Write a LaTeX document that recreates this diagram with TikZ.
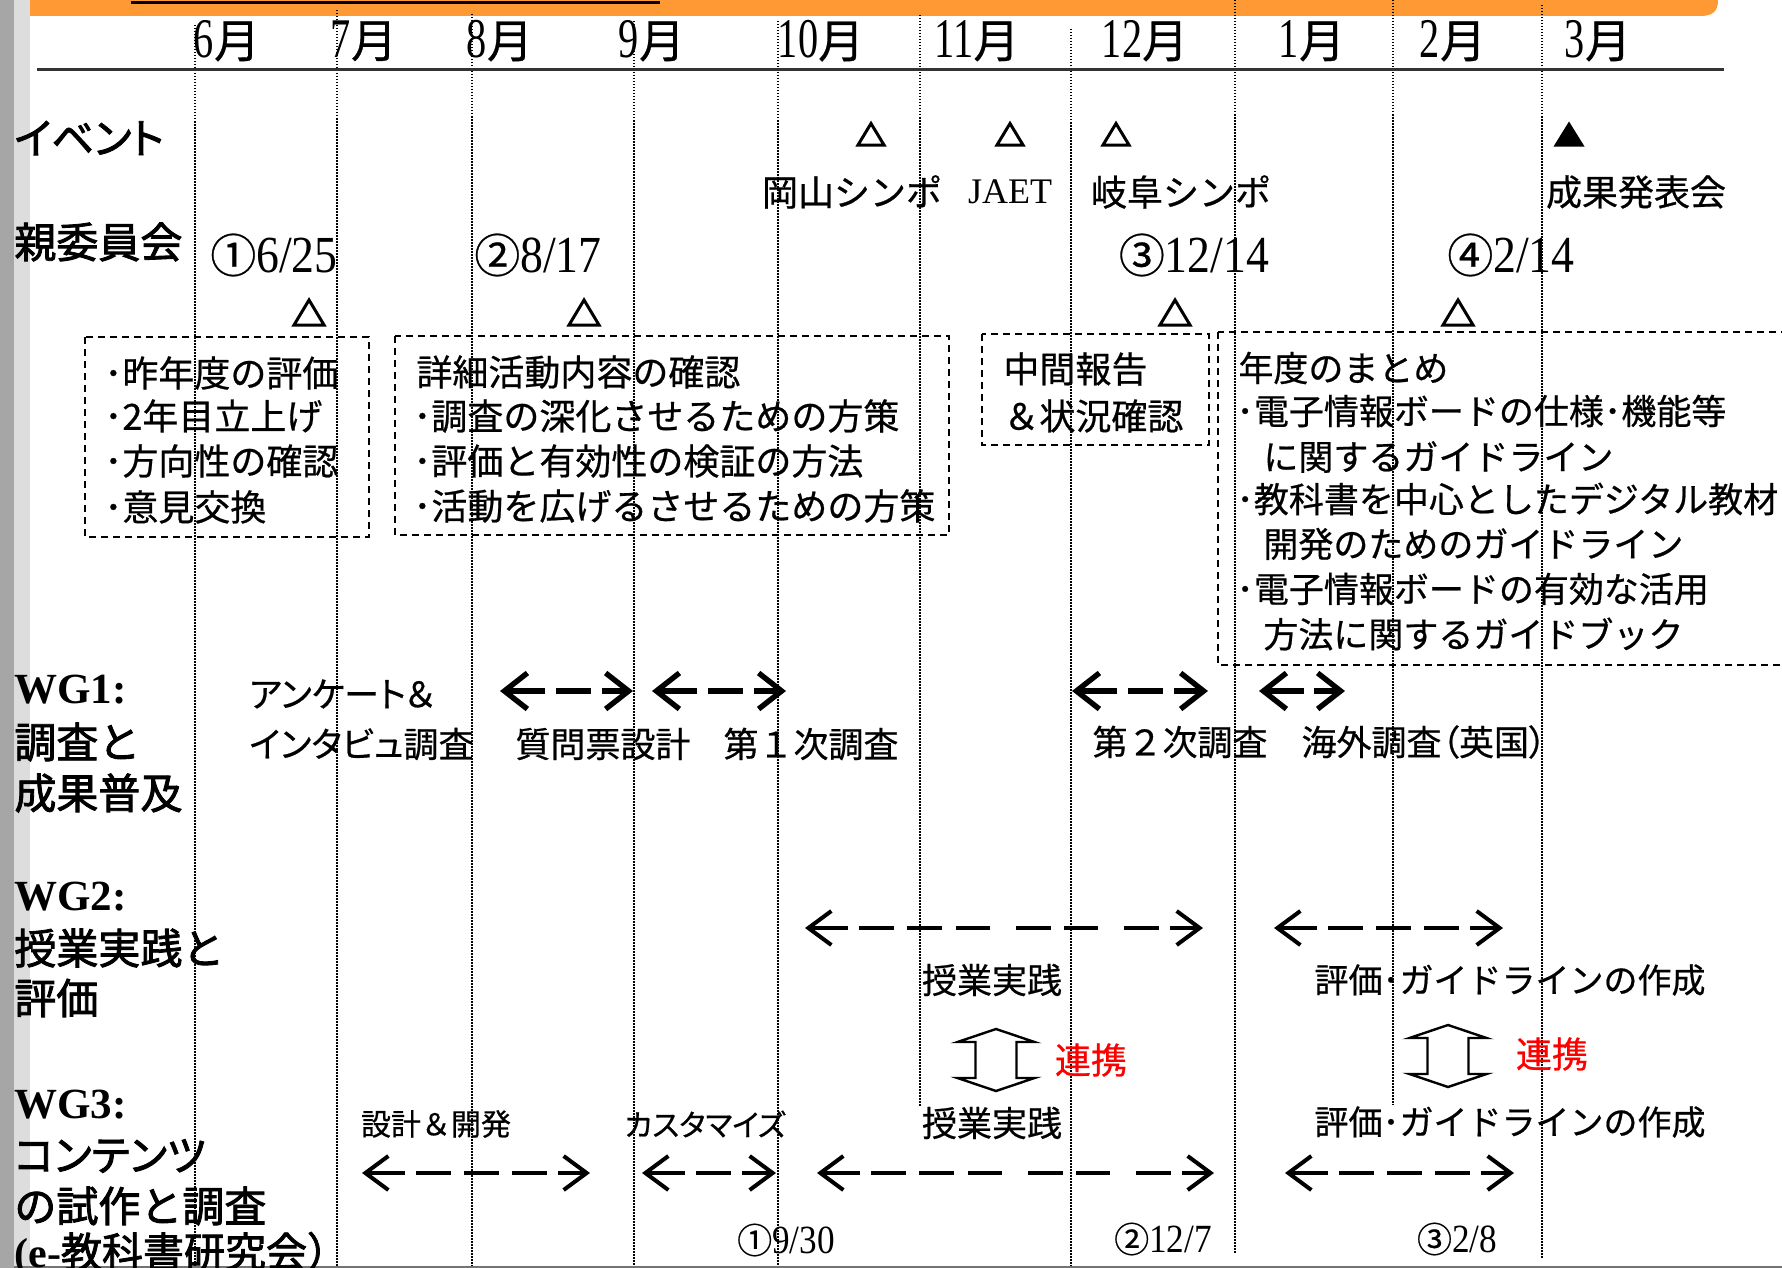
\documentclass[tikz,border=0pt]{standalone}
\usepackage{fontspec}
\setmainfont{Liberation Serif}
\newfontfamily\tn[FakeStretch=0.88]{Liberation Serif}
\newfontfamily\tnm[FakeStretch=0.72]{Liberation Serif}
\newfontfamily\jp[FakeBold=0.6]{Noto Sans CJK JP}
\newfontfamily\jpp[FakeBold=0.6,RawFeature=+palt]{Noto Sans CJK JP}
\newfontfamily\jpb[FakeBold=2]{Noto Sans CJK JP}
\newfontfamily\jpbp[FakeBold=2,RawFeature=+palt]{Noto Sans CJK JP}
\usetikzlibrary{arrows.meta}
\definecolor{barD}{RGB}{166,166,166}
\definecolor{barL}{RGB}{221,221,221}
\definecolor{orng}{RGB}{255,153,51}
\newcommand\fsz[1]{\fontsize{#1pt}{#1pt}\selectfont}
\newcommand\mon[1]{{\tnm\fsz{28}#1}{\jp\fsz{23}月}}
\newcommand\cdate[2]{{\jp\fsz{23}#1}{\tn\fsz{26}#2}}
\newcommand\sdate[2]{{\jp\fsz{17.5}#1}{\tn\fsz{20}#2}}
\tikzset{
  lbl/.style={inner sep=0pt, anchor=west, font={\jpb\fsz{21}}},
  lbp/.style={inner sep=0pt, anchor=west, font={\jpbp\fsz{21}}},
  wg/.style={inner sep=0pt, anchor=west, font={\bfseries\fsz{21.5}}},
  montxt/.style={inner sep=0pt},
  evtxt/.style={inner sep=0pt, font={\jp\fsz{18}}},
  mtxt/.style={inner sep=0pt, font={\jp\fsz{17.5}}},
  stxt/.style={inner sep=0pt, font={\jp\fsz{15}}},
  btxt/.style={inner sep=0pt, anchor=west, font={\jp\fsz{18}}},
  b4txt/.style={inner sep=0pt, anchor=west, font={\jp\fsz{17.5}}},
  redtxt/.style={inner sep=0pt, font={\jp\fsz{18}}, text=red},
  dbox/.style={draw, line width=1pt, dash pattern=on 3.5pt off 2.5pt},
  vline/.style={line width=0.6pt, dash pattern=on 0.75pt off 0.75pt},
  evtri/.style={draw, line width=1.5pt, line join=miter},
  dblarr/.style={draw, fill=white, line width=1.2pt, line join=miter},
  tarr/.style={line width=2pt, {Straight Barb[length=11.5pt,width=17pt]}-{Straight Barb[length=11.5pt,width=17pt]}},
  barr/.style={line width=2.7pt, {Straight Barb[length=11.5pt,width=18pt]}-{Straight Barb[length=11.5pt,width=18pt]}},
  dpTwo/.style={dash pattern=on 19pt off 5pt on 60pt off 1pt},
  dpThree/.style={dash pattern=on 19pt off 5.5pt on 17.5pt off 5.5pt on 60pt off 1pt},
  dpFive/.style={dash pattern=on 19pt off 5.5pt on 17.5pt off 6.5pt on 17.5pt off 6.5pt on 17.5pt off 5.5pt on 60pt off 1pt},
  dpLong/.style={dash pattern=on 19pt off 5.5pt on 17.5pt off 6.5pt on 17.5pt off 7pt on 17pt off 13pt on 17.5pt off 6.5pt on 17pt off 13pt on 17.5pt off 5.5pt on 60pt off 1pt}
}
\begin{document}
\begin{tikzpicture}[x=0.5pt,y=-0.5pt]
\useasboundingbox (0,0) rectangle (1782,1268);
\clip (0,0) rectangle (1782,1268);
\fill[white] (0,0) rectangle (1782,1268);
% left bars and top banner
\fill[barD] (0,0) rectangle (14,1268);
\fill[barL] (14,0) rectangle (30,1268);
\fill[orng] (30,-2) -- (1718,-2) -- (1718,0) .. controls (1718,12) and (1712,16) .. (1700,16) -- (30,16) -- cycle;
\draw[line width=1.5pt] (131,3) -- (660,3);
% month grid
\foreach \x/\a/\b in {195/25/1268, 337/10/1268, 472/14/1268, 634/21/1268, 778/21/1268, 920/15/1107, 1071/29/1268, 1235/0/1253, 1393/0/1105, 1542/5/1258}
  \draw[vline] (\x,\a) -- (\x,\b);
\draw[line width=1.5pt, black!80] (37,70) -- (1724,70);
\draw[line width=1pt, black!55] (14,1266.5) -- (1782,1266.5);
% months
\node[montxt] (m6) at (227,41) {\mon{6}};
\node[montxt] (m7) at (364,41) {\mon{7}};
\node[montxt] (m8) at (500,41) {\mon{8}};
\node[montxt] (m9) at (652,41) {\mon{9}};
\node[montxt] (m10) at (821,41) {\mon{10}};
\node[montxt] (m11) at (977,41) {\mon{11}};
\node[montxt] (m12) at (1145,41) {\mon{12}};
\node[montxt] (m1) at (1312,41) {\mon{1}};
\node[montxt] (m2) at (1453,41) {\mon{2}};
\node[montxt] (m3) at (1598,41) {\mon{3}};
% row labels
\node[lbp] (lev) at (14,138) {イベント};
\node[lbl] (lcom) at (14,242) {親委員会};
\node[wg] (lw1a) at (14,690) {WG1:};
\node[lbl] (lw1b) at (14,742) {調査と};
\node[lbl] (lw1c) at (14,793) {成果普及};
\node[wg] (lw2a) at (14,897) {WG2:};
\node[lbl] (lw2b) at (14,948) {授業実践と};
\node[lbl] (lw2c) at (14,998) {評価};
\node[wg] (lw3a) at (14,1105) {WG3:};
\node[lbp] (lw3b) at (14,1156) {コンテンツ};
\node[lbl] (lw3c) at (14,1206) {の試作と調査};
\node[inner sep=0pt, anchor=west] (lw3d) at (14,1254) {{\bfseries\fsz{21}(e-}{\jpb\fsz{20.5}教科書研究会）}};
% events
\coordinate (ev1) at (871,134);
\coordinate (ev2) at (1010,134);
\coordinate (ev3) at (1116,134);
\coordinate (ev4) at (1569,134);
\draw[evtri] (ev1) ++(0,-10.5) -- ++(13,21.5) -- ++(-26,0) -- cycle;
\draw[evtri] (ev2) ++(0,-10.5) -- ++(13,21.5) -- ++(-26,0) -- cycle;
\draw[evtri] (ev3) ++(0,-10.5) -- ++(13,21.5) -- ++(-26,0) -- cycle;
\fill (ev4) ++(0,-12.5) -- ++(15.5,25) -- ++(-31,0) -- cycle;
\node[evtxt] (e1t) at (852,192) {岡山シンポ};
\node[inner sep=0pt, font=\fsz{18}] (e2t) at (1010,192) {JAET};
\node[evtxt] (e3t) at (1181,192) {岐阜シンポ};
\node[evtxt] (e4t) at (1636,192) {成果発表会};
% committee
\node[inner sep=0pt] (c1) at (274,255) {\cdate{①}{6/25}};
\node[inner sep=0pt] (c2) at (538,255) {\cdate{②}{8/17}};
\node[inner sep=0pt] (c3) at (1194,255) {\cdate{③}{12/14}};
\node[inner sep=0pt] (c4) at (1511,255) {\cdate{④}{2/14}};
\coordinate (ct1) at (309,312);
\coordinate (ct2) at (584,312);
\coordinate (ct3) at (1175,312);
\coordinate (ct4) at (1458,312);
\foreach \c in {ct1,ct2,ct3,ct4}
  \draw[evtri] (\c) ++(0,-12) -- ++(15,25) -- ++(-30,0) -- cycle;
% dashed boxes
\draw[dbox] (85,337) rectangle (369,537);
\draw[dbox] (395,336) rectangle (949,535);
\draw[dbox] (982,334) rectangle (1209,445);
\draw[dbox] (1218,332) rectangle (1800,665);
\node[btxt] (b1a) at (104,373) {･昨年度の評価};
\node[btxt] (b1b) at (104,416) {･2年目立上げ};
\node[btxt] (b1c) at (104,461) {･方向性の確認};
\node[btxt] (b1d) at (104,507) {･意見交換};
\node[btxt] (b2a) at (416,372) {詳細活動内容の確認};
\node[btxt] (b2b) at (413,416) {･調査の深化させるための方策};
\node[btxt] (b2c) at (413,461) {･評価と有効性の検証の方法};
\node[btxt] (b2d) at (413,506) {･活動を広げるさせるための方策};
\node[btxt] (b3a) at (1003,369) {中間報告};
\node[btxt] (b3b) at (1003,416) {＆状況確認};
\node[b4txt] (b4a) at (1238,368) {年度のまとめ};
\node[b4txt] (b4b) at (1236,411) {･電子情報ボードの仕様･機能等};
\node[b4txt] (b4c) at (1263,457) {に関するガイドライン};
\node[b4txt] (b4d) at (1236,499) {･教科書を中心としたデジタル教材};
\node[b4txt] (b4e) at (1263,544) {開発のためのガイドライン};
\node[b4txt] (b4f) at (1236,589) {･電子情報ボードの有効な活用};
\node[b4txt] (b4g) at (1263,634) {方法に関するガイドブック};
% WG1
\node[inner sep=0pt, anchor=west, font={\jpp\fsz{17.5}}] (w1t1) at (249,694) {アンケート＆};
\node[inner sep=0pt, anchor=west, font={\jpp\fsz{17.5}}] (w1t2) at (249,744) {インタビュ調査};
\node[mtxt] (w1t3) at (603,744) {質問票設計};
\node[mtxt] (w1t4) at (811,744) {第１次調査};
\node[mtxt] (w1t5) at (1180,742) {第２次調査};
\node[inner sep=0pt, font={\jpp\fsz{17.5}}] (w1t6) at (1424,742) {海外調査（英国）};
\coordinate (a1s) at (500,691); \coordinate (a1e) at (633,691);
\coordinate (a2s) at (652,691); \coordinate (a2e) at (786,691);
\coordinate (a3s) at (1072,691); \coordinate (a3e) at (1208,691);
\coordinate (a4s) at (1259,691); \coordinate (a4e) at (1345,691);
\draw[barr, dpThree] (a1s) -- (a1e);
\draw[barr, dpThree] (a2s) -- (a2e);
\draw[barr, dpThree] (a3s) -- (a3e);
\draw[barr, dpTwo] (a4s) -- (a4e);
% WG2
\coordinate (b1s) at (805,928); \coordinate (b1e) at (1203,928);
\coordinate (b2s) at (1274,928); \coordinate (b2e) at (1503,928);
\draw[tarr, dpLong] (b1s) -- (b1e);
\draw[tarr, dpFive] (b2s) -- (b2e);
\node[mtxt] (w2t1) at (992,980) {授業実践};
\node[inner sep=0pt, font={\jp\fsz{17}}] (w2t2) at (1510,980) {評価･ガイドラインの作成};
% linkage arrows
\coordinate (da1) at (996,1060);
\coordinate (da2) at (1448,1056);
\foreach \c in {da1,da2}
  \draw[dblarr] (\c) ++(0,-31) -- ++(38.5,13) -- ++(-18,0) -- ++(0,36) -- ++(18,0) -- ++(-38.5,13) -- ++(-38.5,-13) -- ++(18,0) -- ++(0,-36) -- ++(-18,0) -- cycle;
\node[redtxt] (r1) at (1091,1060) {連携};
\node[redtxt] (r2) at (1552,1054) {連携};
% WG3
\node[stxt] (w3t1) at (436,1124) {設計＆開発};
\node[inner sep=0pt, font={\jpp\fsz{15}}] (w3t2) at (705,1124) {カスタマイズ};
\node[mtxt] (w3t3) at (992,1123) {授業実践};
\node[inner sep=0pt, font={\jp\fsz{17}}] (w3t4) at (1510,1122) {評価･ガイドラインの作成};
\coordinate (c1s) at (362,1173); \coordinate (c1e) at (590,1173);
\coordinate (c2s) at (642,1173); \coordinate (c2e) at (776,1173);
\coordinate (c3s) at (817,1173); \coordinate (c3e) at (1214,1173);
\coordinate (c4s) at (1285,1173); \coordinate (c4e) at (1514,1173);
\draw[tarr, dpFive] (c1s) -- (c1e);
\draw[tarr, dpThree] (c2s) -- (c2e);
\draw[tarr, dpLong] (c3s) -- (c3e);
\draw[tarr, dpFive] (c4s) -- (c4e);
\node[inner sep=0pt] (d1) at (786,1240) {\sdate{①}{9/30}};
\node[inner sep=0pt] (d2) at (1163,1239) {\sdate{②}{12/7}};
\node[inner sep=0pt] (d3) at (1457,1239) {\sdate{③}{2/8}};
\end{tikzpicture}
\end{document}
